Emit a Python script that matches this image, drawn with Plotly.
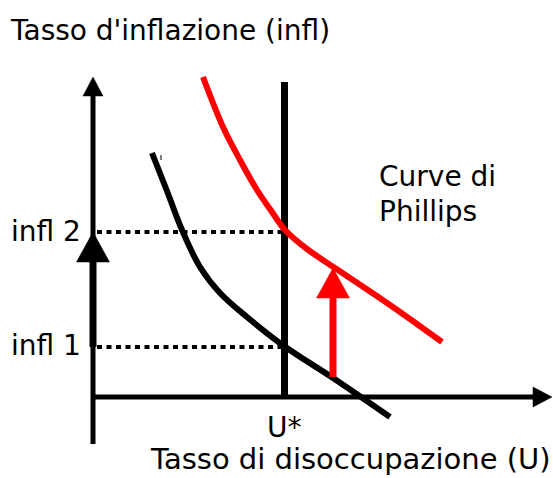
import plotly.graph_objects as go

# ---- data (diagram units: origin at the axes' crossing) ----
red_U = [110, 130, 147, 164, 179, 192, 214, 242, 297, 349]
red_infl = [320, 270, 237, 207, 185, 167, 148, 129, 92, 55]

black_U = [59, 74, 89, 107, 127, 154, 191, 240, 297]
black_infl = [244, 206, 167, 130, 104, 80, 51, 19, -20]

U_star = 191.5
U_star_top = 315
infl1 = 50
infl2 = 165
shift_U = 240          # where the red shift arrow is drawn
shift_from = 20
shift_to = 129

y_axis_bottom = -47
y_axis_top = 320
x_axis_end = 459

labels = {
    "title_y": "Tasso d'inflazione (infl)",
    "title_x": "Tasso di disoccupazione (U)",
    "curves": ["Curve di", "Phillips"],
    "infl1": "infl 1",
    "infl2": "infl 2",
    "ustar": "U*",
}

X_RANGE = [-93, 460]
Y_RANGE = [-81, 397]

FONT = "DejaVu Sans, Arial, sans-serif"
FS = 28

fig = go.Figure()


def line(xs, ys, color="black", width=5, dash=None, shape="linear"):
    fig.add_trace(go.Scatter(
        x=xs, y=ys, mode="lines",
        line=dict(color=color, width=width, dash=dash, shape=shape,
                  smoothing=1.0 if shape == "spline" else None),
        hoverinfo="skip", showlegend=False))


def head(tx, ty, direction, length, half, color):
    if direction == "up":
        xs = [tx, tx - half, tx + half, tx]
        ys = [ty, ty - length, ty - length, ty]
    else:  # right
        xs = [tx, tx - length, tx - length, tx]
        ys = [ty, ty + half, ty - half, ty]
    fig.add_trace(go.Scatter(
        x=xs, y=ys, mode="lines", fill="toself", fillcolor=color,
        line=dict(color=color, width=0.5),
        hoverinfo="skip", showlegend=False))


# axes
line([0, 0], [y_axis_bottom, y_axis_top - 19], width=5)
head(0, y_axis_top, "up", 19, 10, "black")
line([0, x_axis_end - 19], [0, 0], width=5)
head(x_axis_end, 0, "right", 19, 10, "black")

# natural rate line
line([U_star, U_star], [0, U_star_top], width=7)

# dotted guide lines
line([4, U_star], [infl2, infl2], width=4, dash="5px,4.5px")
line([4, U_star], [infl1, infl1], width=4, dash="5px,4.5px")

# Phillips curves
line(black_U, black_infl, color="black", width=6, shape="spline")
line(red_U, red_infl, color="#ff0000", width=6, shape="spline")

# thick black arrow on the inflation axis
line([0, 0], [infl1, infl2 - 30], width=7)
head(0, infl2, "up", 30, 16.5, "black")

# red shift arrow
line([shift_U, shift_U], [shift_from, shift_to - 30], color="#ff0000", width=7)
head(shift_U, shift_to, "up", 30, 16.5, "#ff0000")

# small stray mark near the start of the black curve
line([68, 68], [237, 242], width=1)


def text(s, x, y, xanchor="left", size=FS):
    fig.add_annotation(x=x, y=y, text=s, showarrow=False, xanchor=xanchor,
                       yanchor="middle", font=dict(family=FONT, size=size, color="black"))


text(labels["title_y"], 77, 367, "center")
text(labels["curves"][0], 284, 221)
text(labels["curves"][1], 284, 186)
text(labels["infl2"], -84, 166)
text(labels["infl1"], -84, 52)
text(labels["ustar"], U_star, -30, "center")
text(labels["title_x"], 460, -62, "right", size=29)

fig.update_layout(
    width=553, height=478,
    margin=dict(l=0, r=0, t=0, b=0),
    paper_bgcolor="white", plot_bgcolor="white",
    xaxis=dict(range=X_RANGE, visible=False, fixedrange=True),
    yaxis=dict(range=Y_RANGE, visible=False, fixedrange=True),
    showlegend=False,
)

fig.write_html("out.html", config={"displayModeBar": False},
               post_script="document.body.style.margin='0';")
